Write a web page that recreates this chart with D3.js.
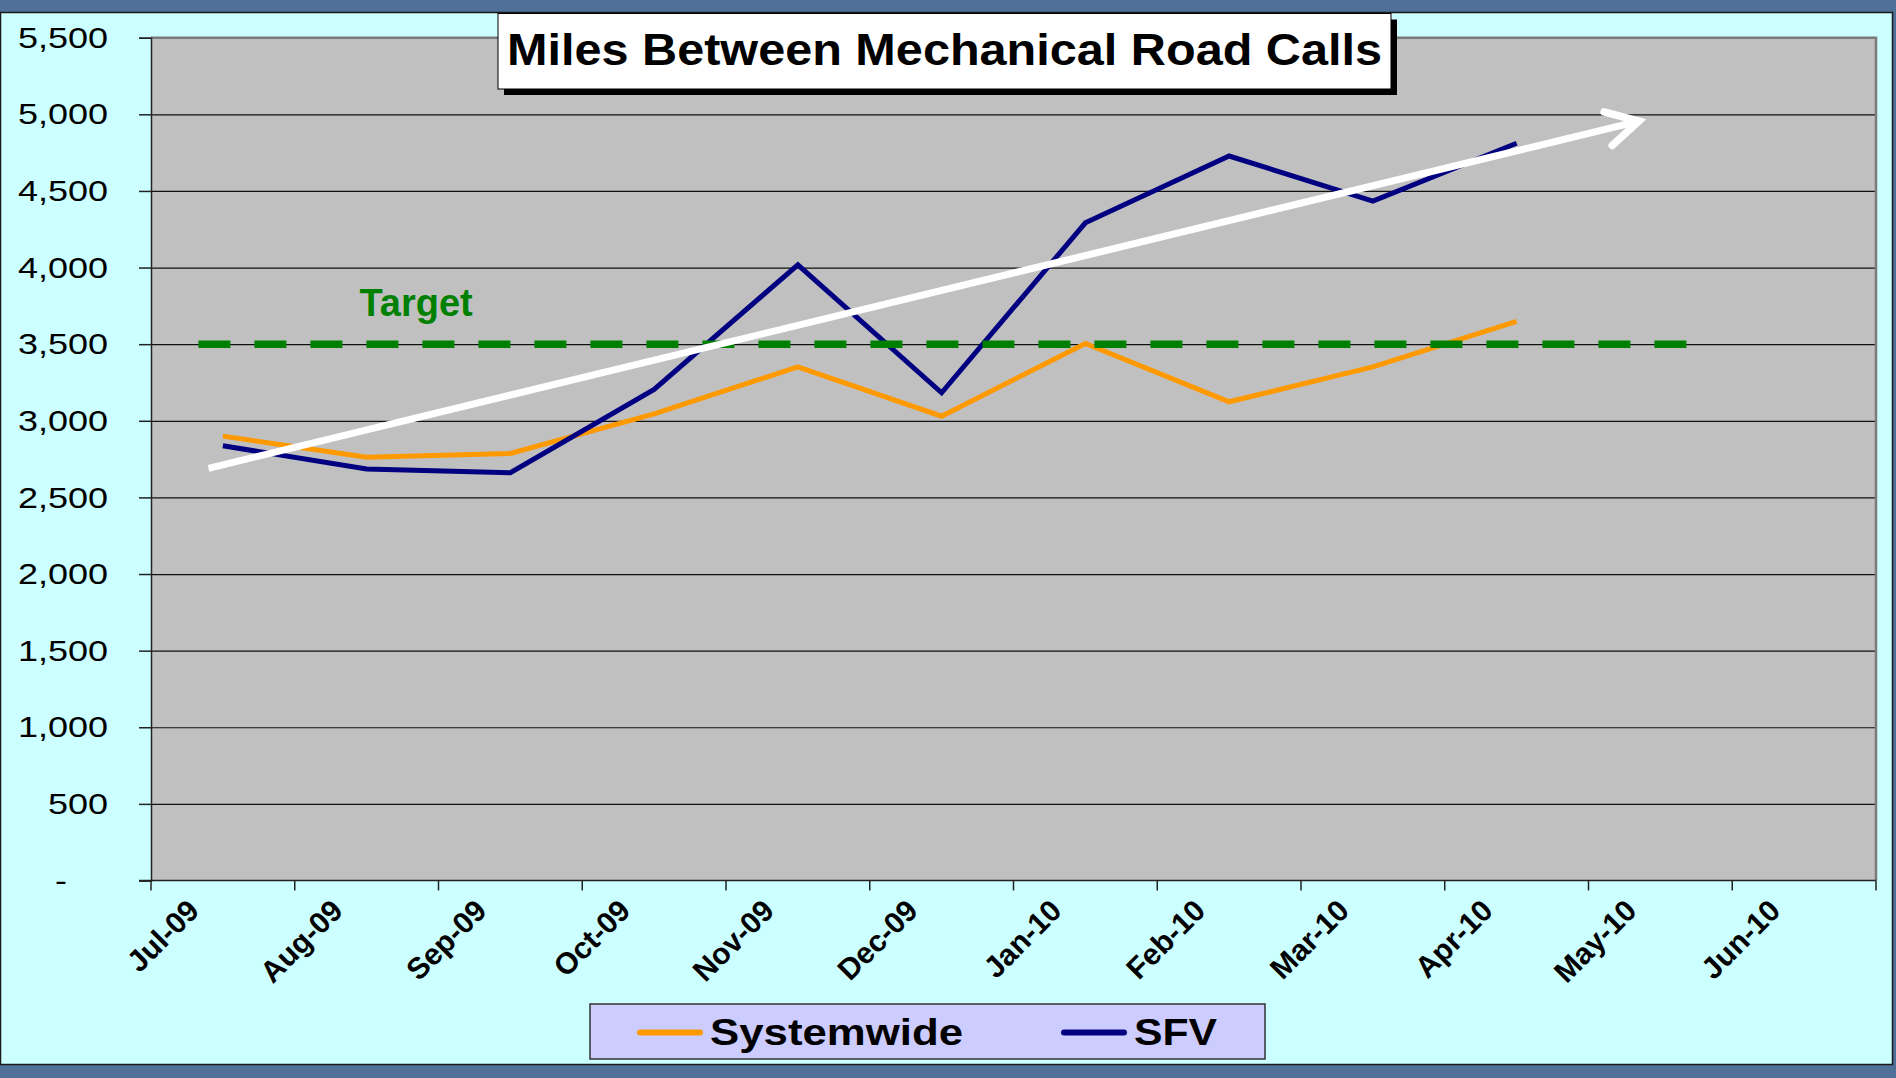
<!DOCTYPE html>
<html>
<head>
<meta charset="utf-8">
<script src="https://cdn.jsdelivr.net/npm/d3@7"></script>
<style>
  html, body { margin: 0; padding: 0; background: #4f7199; overflow: hidden; }
  text { font-family: "Liberation Sans", Arial, sans-serif; }
</style>
</head>
<body>
<script>
// chart values
const months = ['Jul-09', 'Aug-09', 'Sep-09', 'Oct-09', 'Nov-09', 'Dec-09',
  'Jan-10', 'Feb-10', 'Mar-10', 'Apr-10', 'May-10', 'Jun-10'];
const systemwide = [2900, 2762, 2787, 3045, 3352, 3030, 3505, 3124, 3352, 3649];
const sfv = [2837, 2686, 2661, 3205, 4018, 3183, 4292, 4728, 4434, 4811];
const targetValue = 3500;
const trendValues = [2690, 4955];   // white arrow, start and end
const yTicks = [0, 500, 1000, 1500, 2000, 2500, 3000, 3500, 4000, 4500, 5000, 5500];
const seriesNames = ['Systemwide', 'SFV'];

const W = 1896, H = 1078;
const plotL = 151, plotR = 1876, plotT = 37.7, plotB = 880.5;

const svg = d3.select('body')
  .append('svg')
  .attr('width', W)
  .attr('height', H);

// light panel
svg.append('rect')
  .attr('x', 0.5).attr('y', 12.5)
  .attr('width', 1892).attr('height', 1052)
  .attr('fill', '#ccffff')
  .attr('stroke', '#1a1a1a')
  .attr('stroke-width', 1.5);

const x = d3.scaleBand().domain(months).range([plotL, plotR]).padding(0);
const y = d3.scaleLinear().domain([0, 5500]).range([plotB, plotT]);
const bw = x.bandwidth();
const cx = m => x(m) + bw / 2;

// plot area
svg.append('rect')
  .attr('x', plotL).attr('y', plotT)
  .attr('width', plotR - plotL).attr('height', plotB - plotT)
  .attr('fill', '#c0c0c0');

// gridlines
svg.append('g')
  .attr('transform', `translate(${plotL},0)`)
  .call(d3.axisLeft(y).tickValues(yTicks.filter(d => d > 0 && d < 5500)).tickSize(-(plotR - plotL)).tickFormat(''))
  .call(g => g.select('.domain').remove())
  .selectAll('line')
  .attr('stroke', '#111')
  .attr('stroke-width', 1.2);

// plot border, top and right
svg.append('path')
  .attr('d', `M${plotL},${plotT}H${plotR}V${plotB}`)
  .attr('fill', 'none')
  .attr('stroke', '#7a7a7a')
  .attr('stroke-width', 2.5);

// y axis
const yAxis = svg.append('g')
  .attr('transform', `translate(${plotL},0)`)
  .call(d3.axisLeft(y).tickValues(yTicks).tickSize(12).tickPadding(31)
    .tickFormat(d => d === 0 ? '-' : d3.format(',')(d)));
yAxis.select('.domain').attr('stroke', '#222').attr('stroke-width', 1.5);
yAxis.selectAll('.tick line').attr('stroke', '#222').attr('stroke-width', 1.5);
yAxis.selectAll('.tick text')
  .attr('font-size', 30)
  .attr('fill', '#000')
  .attr('dx', d => d === 0 ? -41 : 0)
  .each(function () {
    const len = this.getComputedTextLength();
    d3.select(this).attr('textLength', len * 1.2).attr('lengthAdjust', 'spacingAndGlyphs');
  });

// x axis: line, ticks at category edges, rotated labels
svg.append('line')
  .attr('x1', plotL - 12).attr('x2', plotR)
  .attr('y1', plotB).attr('y2', plotB)
  .attr('stroke', '#222').attr('stroke-width', 1.5);

svg.append('g')
  .selectAll('line')
  .data(months.map(m => x(m)).concat([plotR]))
  .join('line')
  .attr('x1', d => d).attr('x2', d => d)
  .attr('y1', plotB).attr('y2', plotB + 10)
  .attr('stroke', '#222').attr('stroke-width', 1.5);

svg.append('g')
  .selectAll('text')
  .data(months)
  .join('text')
  .attr('transform', d => `translate(${cx(d) - 22},${plotB + 32}) rotate(-45)`)
  .attr('text-anchor', 'end')
  .attr('font-size', 30)
  .attr('font-weight', 'bold')
  .attr('fill', '#000')
  .text(d => d);

// series lines
const line = d3.line()
  .x((d, i) => cx(months[i]))
  .y(d => y(d));

svg.append('path')
  .datum(systemwide)
  .attr('d', line)
  .attr('fill', 'none')
  .attr('stroke', '#ff9900')
  .attr('stroke-width', 5);

svg.append('path')
  .datum(sfv)
  .attr('d', line)
  .attr('fill', 'none')
  .attr('stroke', '#000080')
  .attr('stroke-width', 5);

// target dashed line and label
svg.append('line')
  .attr('x1', x('Jul-09') + bw * 0.33)
  .attr('x2', x('May-10') + bw * 0.69)
  .attr('y1', y(targetValue)).attr('y2', y(targetValue))
  .attr('stroke', '#008000')
  .attr('stroke-width', 7.5)
  .attr('stroke-dasharray', '32 24');

svg.append('text')
  .attr('x', x('Aug-09') + bw * 0.45)
  .attr('y', y(targetValue) - 28)
  .attr('font-size', 38)
  .attr('font-weight', 'bold')
  .attr('fill', '#008000')
  .text('Target');

// white trend arrow
const ax0 = x('Jul-09') + bw * 0.4, ay0 = y(trendValues[0]);
const ax1 = x('May-10') + bw * 0.35, ay1 = y(trendValues[1]);
const ang = Math.atan2(ay1 - ay0, ax1 - ax0);
const head = 36, spread = 0.5;
svg.append('path')
  .attr('d', `M${ax0},${ay0}L${ax1 - 3 * Math.cos(ang)},${ay1 - 3 * Math.sin(ang)}`)
  .attr('stroke', '#fff')
  .attr('stroke-width', 7)
  .attr('fill', 'none');
svg.append('path')
  .attr('d', `M${ax1 - head * Math.cos(ang - spread)},${ay1 - head * Math.sin(ang - spread)}` +
    `L${ax1},${ay1}` +
    `L${ax1 - head * Math.cos(ang + spread)},${ay1 - head * Math.sin(ang + spread)}`)
  .attr('stroke', '#fff')
  .attr('stroke-width', 7.5)
  .attr('stroke-linecap', 'round')
  .attr('stroke-linejoin', 'miter')
  .attr('fill', 'none');

// title box with shadow
const tb = { x: 498, y: 13.5, w: 893, h: 75.5 };
svg.append('rect')
  .attr('x', tb.x + 6).attr('y', tb.y + 6)
  .attr('width', tb.w).attr('height', tb.h)
  .attr('fill', '#000');
svg.append('rect')
  .attr('x', tb.x).attr('y', tb.y)
  .attr('width', tb.w).attr('height', tb.h)
  .attr('fill', '#fff')
  .attr('stroke', '#000')
  .attr('stroke-width', 1);
svg.append('text')
  .attr('x', tb.x + tb.w / 2)
  .attr('y', 65)
  .attr('text-anchor', 'middle')
  .attr('font-size', 44)
  .attr('font-weight', 'bold')
  .attr('fill', '#000')
  .attr('textLength', 875)
  .attr('lengthAdjust', 'spacingAndGlyphs')
  .text('Miles Between Mechanical Road Calls');

// legend
const lg = svg.append('g');
lg.append('rect')
  .attr('x', 590).attr('y', 1004)
  .attr('width', 675).attr('height', 55)
  .attr('fill', '#ccccff')
  .attr('stroke', '#333')
  .attr('stroke-width', 1.5);
const legendX = [640, 1064];
const legendColors = ['#ff9900', '#000080'];
const legendLen = [253, 83];
seriesNames.forEach((name, i) => {
  lg.append('line')
    .attr('x1', legendX[i]).attr('x2', legendX[i] + 60)
    .attr('y1', 1032.5).attr('y2', 1032.5)
    .attr('stroke', legendColors[i])
    .attr('stroke-width', 6)
    .attr('stroke-linecap', 'round');
  lg.append('text')
    .attr('x', legendX[i] + 70)
    .attr('y', 1045)
    .attr('font-size', 36)
    .attr('font-weight', 'bold')
    .attr('fill', '#000')
    .attr('textLength', legendLen[i])
    .attr('lengthAdjust', 'spacingAndGlyphs')
    .text(name);
});
</script>
</body>
</html>
